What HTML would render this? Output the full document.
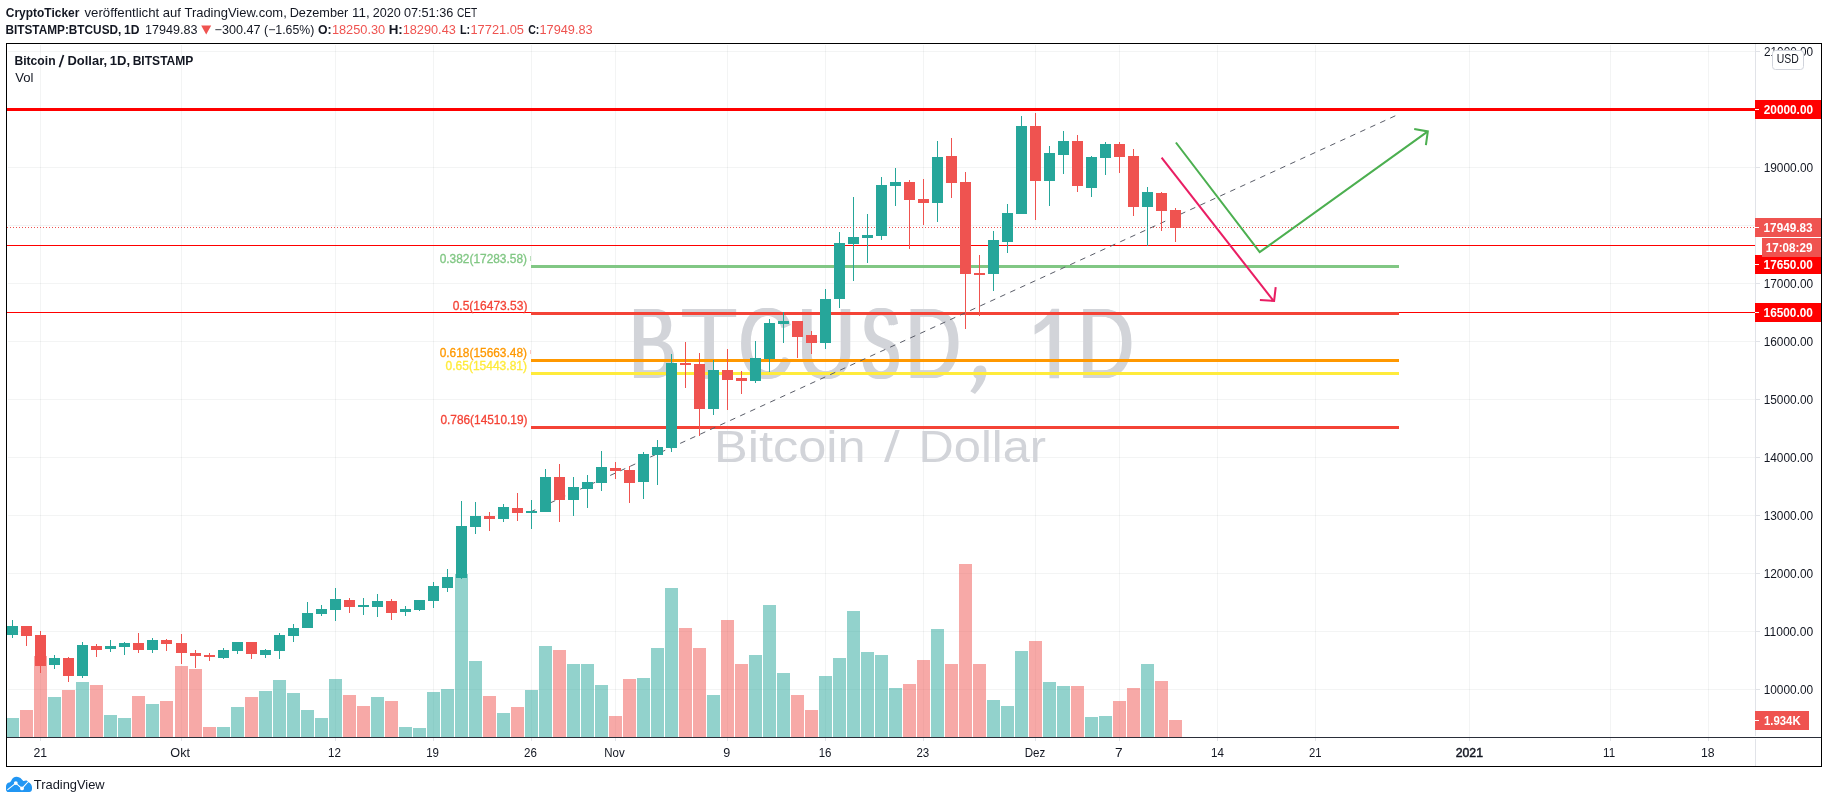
<!DOCTYPE html>
<html><head><meta charset="utf-8"><title>BTCUSD chart</title>
<style>html,body{margin:0;padding:0;background:#fff;}body{width:1828px;height:803px;overflow:hidden;font-family:"Liberation Sans",sans-serif;}svg{display:block;will-change:transform;}text{font-family:"Liberation Sans",sans-serif;}</style>
</head><body>
<svg width="1828" height="803" viewBox="0 0 1828 803">
<rect x="0" y="0" width="1828" height="803" fill="#ffffff"/>
<defs><clipPath id="pane"><rect x="7" y="44" width="1748" height="693"/></clipPath></defs>
<g clip-path="url(#pane)">
<g shape-rendering="crispEdges">
<rect x="8" y="689" width="1747" height="1" fill="rgba(42,46,57,0.055)" />
<rect x="8" y="631" width="1747" height="1" fill="rgba(42,46,57,0.055)" />
<rect x="8" y="573" width="1747" height="1" fill="rgba(42,46,57,0.055)" />
<rect x="8" y="515" width="1747" height="1" fill="rgba(42,46,57,0.055)" />
<rect x="8" y="457" width="1747" height="1" fill="rgba(42,46,57,0.055)" />
<rect x="8" y="399" width="1747" height="1" fill="rgba(42,46,57,0.055)" />
<rect x="8" y="341" width="1747" height="1" fill="rgba(42,46,57,0.055)" />
<rect x="8" y="283" width="1747" height="1" fill="rgba(42,46,57,0.055)" />
<rect x="8" y="225" width="1747" height="1" fill="rgba(42,46,57,0.055)" />
<rect x="8" y="167" width="1747" height="1" fill="rgba(42,46,57,0.055)" />
<rect x="8" y="109" width="1747" height="1" fill="rgba(42,46,57,0.055)" />
<rect x="8" y="51" width="1747" height="1" fill="rgba(42,46,57,0.055)" />
<rect x="40" y="45" width="1" height="692" fill="rgba(42,46,57,0.055)" />
<rect x="181" y="45" width="1" height="692" fill="rgba(42,46,57,0.055)" />
<rect x="335" y="45" width="1" height="692" fill="rgba(42,46,57,0.055)" />
<rect x="433" y="45" width="1" height="692" fill="rgba(42,46,57,0.055)" />
<rect x="531" y="45" width="1" height="692" fill="rgba(42,46,57,0.055)" />
<rect x="615" y="45" width="1" height="692" fill="rgba(42,46,57,0.055)" />
<rect x="727" y="45" width="1" height="692" fill="rgba(42,46,57,0.055)" />
<rect x="825" y="45" width="1" height="692" fill="rgba(42,46,57,0.055)" />
<rect x="923" y="45" width="1" height="692" fill="rgba(42,46,57,0.055)" />
<rect x="1035" y="45" width="1" height="692" fill="rgba(42,46,57,0.055)" />
<rect x="1119" y="45" width="1" height="692" fill="rgba(42,46,57,0.055)" />
<rect x="1217" y="45" width="1" height="692" fill="rgba(42,46,57,0.055)" />
<rect x="1315" y="45" width="1" height="692" fill="rgba(42,46,57,0.055)" />
<rect x="1469" y="45" width="1" height="692" fill="rgba(42,46,57,0.055)" />
<rect x="1610" y="45" width="1" height="692" fill="rgba(42,46,57,0.055)" />
<rect x="1708" y="45" width="1" height="692" fill="rgba(42,46,57,0.055)" />
</g>
<text transform="translate(628.23 378.3) scale(0.6894 1)" font-size="101.0" fill="#d2d4d9">B</text><text transform="translate(629.68 378.3) scale(0.6894 1)" font-size="101.0" fill="#d2d4d9">B</text><text transform="translate(631.13 378.3) scale(0.6894 1)" font-size="101.0" fill="#d2d4d9">B</text>
<text transform="translate(680.11 378.3) scale(0.9333 1)" font-size="101.0" fill="#d2d4d9">T</text><text transform="translate(680.45 378.3) scale(0.9333 1)" font-size="101.0" fill="#d2d4d9">T</text><text transform="translate(680.78 378.3) scale(0.9333 1)" font-size="101.0" fill="#d2d4d9">T</text>
<text transform="translate(737.24 378.3) scale(0.7451 1)" font-size="101.0" fill="#d2d4d9">C</text><text transform="translate(738.43 378.3) scale(0.7451 1)" font-size="101.0" fill="#d2d4d9">C</text><text transform="translate(739.63 378.3) scale(0.7451 1)" font-size="101.0" fill="#d2d4d9">C</text>
<text transform="translate(795.79 378.3) scale(0.8056 1)" font-size="101.0" fill="#d2d4d9">U</text><text transform="translate(796.71 378.3) scale(0.8056 1)" font-size="101.0" fill="#d2d4d9">U</text><text transform="translate(797.63 378.3) scale(0.8056 1)" font-size="101.0" fill="#d2d4d9">U</text>
<text transform="translate(859.98 378.3) scale(0.5575 1)" font-size="101.0" fill="#d2d4d9">S</text><text transform="translate(862.04 378.3) scale(0.5575 1)" font-size="101.0" fill="#d2d4d9">S</text><text transform="translate(864.09 378.3) scale(0.5575 1)" font-size="101.0" fill="#d2d4d9">S</text>
<text transform="translate(904.37 378.3) scale(0.7592 1)" font-size="101.0" fill="#d2d4d9">D</text><text transform="translate(905.50 378.3) scale(0.7592 1)" font-size="101.0" fill="#d2d4d9">D</text><text transform="translate(906.63 378.3) scale(0.7592 1)" font-size="101.0" fill="#d2d4d9">D</text>
<text transform="translate(1076.65 378.3) scale(0.7731 1)" font-size="101.0" fill="#d2d4d9">D</text><text transform="translate(1077.72 378.3) scale(0.7731 1)" font-size="101.0" fill="#d2d4d9">D</text><text transform="translate(1078.79 378.3) scale(0.7731 1)" font-size="101.0" fill="#d2d4d9">D</text>
<path d="M1059.1 308.8 L1051.8 308.8 Q1046 319 1034.6 325.5 L1034.6 334.5 Q1043 330.5 1049.5 324 L1049.5 378.3 L1059.1 378.3 Z" fill="#d2d4d9"/>
<path d="M976.5 366.5 Q981 364.2 984.5 366.8 Q987.2 369.5 986.2 375 Q984.5 384 975 394 L970.3 391.2 Q976.5 383.5 976.2 378.5 Q973 377 973.2 372.5 Q973.5 368.5 976.5 366.5 Z" fill="#d2d4d9"/>
<text transform="translate(714.06 462.3) scale(1.1475 1)" font-size="44.0" fill="#d2d4d9">Bitcoin</text>
<text transform="translate(884.10 462.3) scale(1.2825 1)" font-size="44.0" fill="#d2d4d9">/</text>
<text transform="translate(918.59 462.3) scale(1.1102 1)" font-size="44.0" fill="#d2d4d9">Dollar</text>
<g shape-rendering="crispEdges">
<rect x="6" y="718" width="13" height="19" fill="rgba(38,166,154,0.5)" />
<rect x="20" y="710" width="13" height="27" fill="rgba(239,83,80,0.5)" />
<rect x="34" y="656" width="13" height="81" fill="rgba(239,83,80,0.5)" />
<rect x="48" y="697" width="13" height="40" fill="rgba(38,166,154,0.5)" />
<rect x="62" y="690" width="13" height="47" fill="rgba(239,83,80,0.5)" />
<rect x="76" y="682" width="13" height="55" fill="rgba(38,166,154,0.5)" />
<rect x="90" y="685" width="13" height="52" fill="rgba(239,83,80,0.5)" />
<rect x="104" y="715" width="13" height="22" fill="rgba(38,166,154,0.5)" />
<rect x="118" y="718" width="13" height="19" fill="rgba(38,166,154,0.5)" />
<rect x="132" y="696" width="13" height="41" fill="rgba(239,83,80,0.5)" />
<rect x="146" y="704" width="13" height="33" fill="rgba(38,166,154,0.5)" />
<rect x="160" y="701" width="13" height="36" fill="rgba(239,83,80,0.5)" />
<rect x="175" y="666" width="13" height="71" fill="rgba(239,83,80,0.5)" />
<rect x="189" y="669" width="13" height="68" fill="rgba(239,83,80,0.5)" />
<rect x="203" y="727" width="13" height="10" fill="rgba(239,83,80,0.5)" />
<rect x="217" y="727" width="13" height="10" fill="rgba(38,166,154,0.5)" />
<rect x="231" y="707" width="13" height="30" fill="rgba(38,166,154,0.5)" />
<rect x="245" y="697" width="13" height="40" fill="rgba(239,83,80,0.5)" />
<rect x="259" y="691" width="13" height="46" fill="rgba(38,166,154,0.5)" />
<rect x="273" y="680" width="13" height="57" fill="rgba(38,166,154,0.5)" />
<rect x="287" y="693" width="13" height="44" fill="rgba(38,166,154,0.5)" />
<rect x="301" y="710" width="13" height="27" fill="rgba(38,166,154,0.5)" />
<rect x="315" y="718" width="13" height="19" fill="rgba(38,166,154,0.5)" />
<rect x="329" y="679" width="13" height="58" fill="rgba(38,166,154,0.5)" />
<rect x="343" y="695" width="13" height="42" fill="rgba(239,83,80,0.5)" />
<rect x="357" y="706" width="13" height="31" fill="rgba(239,83,80,0.5)" />
<rect x="371" y="697" width="13" height="40" fill="rgba(38,166,154,0.5)" />
<rect x="385" y="701" width="13" height="36" fill="rgba(239,83,80,0.5)" />
<rect x="399" y="727" width="13" height="10" fill="rgba(38,166,154,0.5)" />
<rect x="413" y="728" width="13" height="9" fill="rgba(38,166,154,0.5)" />
<rect x="427" y="692" width="13" height="45" fill="rgba(38,166,154,0.5)" />
<rect x="441" y="689" width="13" height="48" fill="rgba(38,166,154,0.5)" />
<rect x="455" y="574" width="13" height="163" fill="rgba(38,166,154,0.5)" />
<rect x="469" y="661" width="13" height="76" fill="rgba(38,166,154,0.5)" />
<rect x="483" y="696" width="13" height="41" fill="rgba(239,83,80,0.5)" />
<rect x="497" y="713" width="13" height="24" fill="rgba(38,166,154,0.5)" />
<rect x="511" y="707" width="13" height="30" fill="rgba(239,83,80,0.5)" />
<rect x="525" y="690" width="13" height="47" fill="rgba(38,166,154,0.5)" />
<rect x="539" y="646" width="13" height="91" fill="rgba(38,166,154,0.5)" />
<rect x="553" y="650" width="13" height="87" fill="rgba(239,83,80,0.5)" />
<rect x="567" y="664" width="13" height="73" fill="rgba(38,166,154,0.5)" />
<rect x="581" y="664" width="13" height="73" fill="rgba(38,166,154,0.5)" />
<rect x="595" y="685" width="13" height="52" fill="rgba(38,166,154,0.5)" />
<rect x="609" y="716" width="13" height="21" fill="rgba(239,83,80,0.5)" />
<rect x="623" y="679" width="13" height="58" fill="rgba(239,83,80,0.5)" />
<rect x="637" y="678" width="13" height="59" fill="rgba(38,166,154,0.5)" />
<rect x="651" y="648" width="13" height="89" fill="rgba(38,166,154,0.5)" />
<rect x="665" y="588" width="13" height="149" fill="rgba(38,166,154,0.5)" />
<rect x="679" y="628" width="13" height="109" fill="rgba(239,83,80,0.5)" />
<rect x="693" y="648" width="13" height="89" fill="rgba(239,83,80,0.5)" />
<rect x="707" y="695" width="13" height="42" fill="rgba(38,166,154,0.5)" />
<rect x="721" y="620" width="13" height="117" fill="rgba(239,83,80,0.5)" />
<rect x="735" y="664" width="13" height="73" fill="rgba(239,83,80,0.5)" />
<rect x="749" y="655" width="13" height="82" fill="rgba(38,166,154,0.5)" />
<rect x="763" y="605" width="13" height="132" fill="rgba(38,166,154,0.5)" />
<rect x="777" y="673" width="13" height="64" fill="rgba(38,166,154,0.5)" />
<rect x="791" y="695" width="13" height="42" fill="rgba(239,83,80,0.5)" />
<rect x="805" y="710" width="13" height="27" fill="rgba(239,83,80,0.5)" />
<rect x="819" y="676" width="13" height="61" fill="rgba(38,166,154,0.5)" />
<rect x="833" y="658" width="13" height="79" fill="rgba(38,166,154,0.5)" />
<rect x="847" y="611" width="13" height="126" fill="rgba(38,166,154,0.5)" />
<rect x="861" y="652" width="13" height="85" fill="rgba(38,166,154,0.5)" />
<rect x="875" y="655" width="13" height="82" fill="rgba(38,166,154,0.5)" />
<rect x="889" y="688" width="13" height="49" fill="rgba(38,166,154,0.5)" />
<rect x="903" y="684" width="13" height="53" fill="rgba(239,83,80,0.5)" />
<rect x="917" y="660" width="13" height="77" fill="rgba(239,83,80,0.5)" />
<rect x="931" y="629" width="13" height="108" fill="rgba(38,166,154,0.5)" />
<rect x="945" y="664" width="13" height="73" fill="rgba(239,83,80,0.5)" />
<rect x="959" y="564" width="13" height="173" fill="rgba(239,83,80,0.5)" />
<rect x="973" y="664" width="13" height="73" fill="rgba(239,83,80,0.5)" />
<rect x="987" y="700" width="13" height="37" fill="rgba(38,166,154,0.5)" />
<rect x="1001" y="706" width="13" height="31" fill="rgba(38,166,154,0.5)" />
<rect x="1015" y="651" width="13" height="86" fill="rgba(38,166,154,0.5)" />
<rect x="1029" y="641" width="13" height="96" fill="rgba(239,83,80,0.5)" />
<rect x="1043" y="682" width="13" height="55" fill="rgba(38,166,154,0.5)" />
<rect x="1057" y="686" width="13" height="51" fill="rgba(38,166,154,0.5)" />
<rect x="1071" y="686" width="13" height="51" fill="rgba(239,83,80,0.5)" />
<rect x="1085" y="717" width="13" height="20" fill="rgba(38,166,154,0.5)" />
<rect x="1099" y="716" width="13" height="21" fill="rgba(38,166,154,0.5)" />
<rect x="1113" y="701" width="13" height="36" fill="rgba(239,83,80,0.5)" />
<rect x="1127" y="688" width="13" height="49" fill="rgba(239,83,80,0.5)" />
<rect x="1141" y="664" width="13" height="73" fill="rgba(38,166,154,0.5)" />
<rect x="1155" y="681" width="13" height="56" fill="rgba(239,83,80,0.5)" />
<rect x="1169" y="720" width="13" height="17" fill="rgba(239,83,80,0.5)" />
<rect x="7" y="108" width="1748" height="3" fill="#ff0000" />
<rect x="7" y="245" width="1748" height="1" fill="#ff0000" />
<rect x="7" y="312" width="1748" height="1" fill="#ff0000" />
<rect x="531" y="265" width="868" height="3" fill="#81c784" />
<rect x="531" y="312" width="868" height="3" fill="#f44336" />
<rect x="531" y="359" width="868" height="3" fill="#ff9800" />
<rect x="531" y="372" width="868" height="3" fill="#ffeb3b" />
<rect x="531" y="426" width="868" height="3" fill="#f44336" />
</g>
<line x1="7" y1="227.5" x2="1755" y2="227.5" stroke="#ef5350" stroke-width="1" stroke-dasharray="1 2" shape-rendering="crispEdges"/>
<line x1="1395.3" y1="115.8" x2="531.5" y2="511.5" stroke="#5a5d68" stroke-width="1" stroke-dasharray="5.6 5.4"/>
<g shape-rendering="crispEdges">
<rect x="12" y="620" width="1" height="18" fill="#26a69a" />
<rect x="7" y="626" width="11" height="9" fill="#26a69a" />
<rect x="26" y="626" width="1" height="20" fill="#ef5350" />
<rect x="21" y="626" width="11" height="10" fill="#ef5350" />
<rect x="40" y="631" width="1" height="42" fill="#ef5350" />
<rect x="35" y="635" width="11" height="31" fill="#ef5350" />
<rect x="54" y="655" width="1" height="14" fill="#26a69a" />
<rect x="49" y="658" width="11" height="7" fill="#26a69a" />
<rect x="68" y="657" width="1" height="25" fill="#ef5350" />
<rect x="63" y="658" width="11" height="18" fill="#ef5350" />
<rect x="82" y="642" width="1" height="36" fill="#26a69a" />
<rect x="77" y="645" width="11" height="31" fill="#26a69a" />
<rect x="96" y="644" width="1" height="13" fill="#ef5350" />
<rect x="91" y="646" width="11" height="4" fill="#ef5350" />
<rect x="110" y="640" width="1" height="12" fill="#26a69a" />
<rect x="105" y="646" width="11" height="3" fill="#26a69a" />
<rect x="124" y="642" width="1" height="13" fill="#26a69a" />
<rect x="119" y="643" width="11" height="4" fill="#26a69a" />
<rect x="138" y="633" width="1" height="20" fill="#ef5350" />
<rect x="133" y="643" width="11" height="7" fill="#ef5350" />
<rect x="152" y="638" width="1" height="15" fill="#26a69a" />
<rect x="147" y="640" width="11" height="10" fill="#26a69a" />
<rect x="166" y="639" width="1" height="12" fill="#ef5350" />
<rect x="161" y="640" width="11" height="4" fill="#ef5350" />
<rect x="181" y="634" width="1" height="30" fill="#ef5350" />
<rect x="176" y="643" width="11" height="10" fill="#ef5350" />
<rect x="195" y="650" width="1" height="18" fill="#ef5350" />
<rect x="190" y="653" width="11" height="3" fill="#ef5350" />
<rect x="209" y="653" width="1" height="8" fill="#ef5350" />
<rect x="204" y="655" width="11" height="2" fill="#ef5350" />
<rect x="223" y="648" width="1" height="11" fill="#26a69a" />
<rect x="218" y="650" width="11" height="8" fill="#26a69a" />
<rect x="237" y="642" width="1" height="12" fill="#26a69a" />
<rect x="232" y="642" width="11" height="9" fill="#26a69a" />
<rect x="251" y="642" width="1" height="17" fill="#ef5350" />
<rect x="246" y="642" width="11" height="12" fill="#ef5350" />
<rect x="265" y="649" width="1" height="9" fill="#26a69a" />
<rect x="260" y="650" width="11" height="5" fill="#26a69a" />
<rect x="279" y="633" width="1" height="26" fill="#26a69a" />
<rect x="274" y="635" width="11" height="16" fill="#26a69a" />
<rect x="293" y="624" width="1" height="18" fill="#26a69a" />
<rect x="288" y="628" width="11" height="8" fill="#26a69a" />
<rect x="307" y="602" width="1" height="26" fill="#26a69a" />
<rect x="302" y="613" width="11" height="15" fill="#26a69a" />
<rect x="321" y="605" width="1" height="11" fill="#26a69a" />
<rect x="316" y="609" width="11" height="5" fill="#26a69a" />
<rect x="335" y="588" width="1" height="33" fill="#26a69a" />
<rect x="330" y="599" width="11" height="11" fill="#26a69a" />
<rect x="349" y="598" width="1" height="15" fill="#ef5350" />
<rect x="344" y="600" width="11" height="7" fill="#ef5350" />
<rect x="363" y="598" width="1" height="17" fill="#26a69a" />
<rect x="358" y="605" width="11" height="2" fill="#26a69a" />
<rect x="377" y="594" width="1" height="23" fill="#26a69a" />
<rect x="372" y="601" width="11" height="6" fill="#26a69a" />
<rect x="391" y="599" width="1" height="21" fill="#ef5350" />
<rect x="386" y="601" width="11" height="12" fill="#ef5350" />
<rect x="405" y="606" width="1" height="10" fill="#26a69a" />
<rect x="400" y="609" width="11" height="3" fill="#26a69a" />
<rect x="419" y="600" width="1" height="11" fill="#26a69a" />
<rect x="414" y="600" width="11" height="10" fill="#26a69a" />
<rect x="433" y="582" width="1" height="26" fill="#26a69a" />
<rect x="428" y="586" width="11" height="15" fill="#26a69a" />
<rect x="447" y="569" width="1" height="23" fill="#26a69a" />
<rect x="442" y="577" width="11" height="11" fill="#26a69a" />
<rect x="461" y="501" width="1" height="78" fill="#26a69a" />
<rect x="456" y="526" width="11" height="52" fill="#26a69a" />
<rect x="475" y="502" width="1" height="32" fill="#26a69a" />
<rect x="470" y="516" width="11" height="11" fill="#26a69a" />
<rect x="489" y="512" width="1" height="19" fill="#ef5350" />
<rect x="484" y="516" width="11" height="3" fill="#ef5350" />
<rect x="503" y="504" width="1" height="18" fill="#26a69a" />
<rect x="498" y="507" width="11" height="12" fill="#26a69a" />
<rect x="517" y="493" width="1" height="28" fill="#ef5350" />
<rect x="512" y="508" width="11" height="5" fill="#ef5350" />
<rect x="531" y="500" width="1" height="29" fill="#26a69a" />
<rect x="526" y="511" width="11" height="2" fill="#26a69a" />
<rect x="545" y="469" width="1" height="43" fill="#26a69a" />
<rect x="540" y="477" width="11" height="35" fill="#26a69a" />
<rect x="559" y="464" width="1" height="58" fill="#ef5350" />
<rect x="554" y="477" width="11" height="23" fill="#ef5350" />
<rect x="573" y="477" width="1" height="39" fill="#26a69a" />
<rect x="568" y="487" width="11" height="13" fill="#26a69a" />
<rect x="587" y="475" width="1" height="33" fill="#26a69a" />
<rect x="582" y="482" width="11" height="7" fill="#26a69a" />
<rect x="601" y="451" width="1" height="40" fill="#26a69a" />
<rect x="596" y="467" width="11" height="16" fill="#26a69a" />
<rect x="615" y="462" width="1" height="17" fill="#ef5350" />
<rect x="610" y="468" width="11" height="3" fill="#ef5350" />
<rect x="629" y="466" width="1" height="37" fill="#ef5350" />
<rect x="624" y="470" width="11" height="13" fill="#ef5350" />
<rect x="643" y="452" width="1" height="47" fill="#26a69a" />
<rect x="638" y="454" width="11" height="28" fill="#26a69a" />
<rect x="657" y="440" width="1" height="45" fill="#26a69a" />
<rect x="652" y="447" width="11" height="8" fill="#26a69a" />
<rect x="671" y="354" width="1" height="98" fill="#26a69a" />
<rect x="666" y="363" width="11" height="85" fill="#26a69a" />
<rect x="685" y="342" width="1" height="46" fill="#ef5350" />
<rect x="680" y="363" width="11" height="2" fill="#ef5350" />
<rect x="699" y="353" width="1" height="83" fill="#ef5350" />
<rect x="694" y="364" width="11" height="45" fill="#ef5350" />
<rect x="713" y="360" width="1" height="55" fill="#26a69a" />
<rect x="708" y="370" width="11" height="39" fill="#26a69a" />
<rect x="727" y="349" width="1" height="61" fill="#ef5350" />
<rect x="722" y="370" width="11" height="10" fill="#ef5350" />
<rect x="741" y="371" width="1" height="23" fill="#ef5350" />
<rect x="736" y="378" width="11" height="3" fill="#ef5350" />
<rect x="755" y="341" width="1" height="42" fill="#26a69a" />
<rect x="750" y="358" width="11" height="23" fill="#26a69a" />
<rect x="769" y="319" width="1" height="53" fill="#26a69a" />
<rect x="764" y="323" width="11" height="36" fill="#26a69a" />
<rect x="783" y="312" width="1" height="31" fill="#26a69a" />
<rect x="778" y="321" width="11" height="3" fill="#26a69a" />
<rect x="797" y="321" width="1" height="37" fill="#ef5350" />
<rect x="792" y="321" width="11" height="16" fill="#ef5350" />
<rect x="811" y="331" width="1" height="23" fill="#ef5350" />
<rect x="806" y="335" width="11" height="8" fill="#ef5350" />
<rect x="825" y="289" width="1" height="60" fill="#26a69a" />
<rect x="820" y="299" width="11" height="44" fill="#26a69a" />
<rect x="839" y="232" width="1" height="76" fill="#26a69a" />
<rect x="834" y="243" width="11" height="56" fill="#26a69a" />
<rect x="853" y="197" width="1" height="84" fill="#26a69a" />
<rect x="848" y="237" width="11" height="7" fill="#26a69a" />
<rect x="867" y="214" width="1" height="49" fill="#26a69a" />
<rect x="862" y="235" width="11" height="3" fill="#26a69a" />
<rect x="881" y="177" width="1" height="63" fill="#26a69a" />
<rect x="876" y="185" width="11" height="51" fill="#26a69a" />
<rect x="895" y="168" width="1" height="38" fill="#26a69a" />
<rect x="890" y="182" width="11" height="4" fill="#26a69a" />
<rect x="909" y="180" width="1" height="69" fill="#ef5350" />
<rect x="904" y="182" width="11" height="18" fill="#ef5350" />
<rect x="923" y="179" width="1" height="46" fill="#ef5350" />
<rect x="918" y="199" width="11" height="4" fill="#ef5350" />
<rect x="937" y="141" width="1" height="81" fill="#26a69a" />
<rect x="932" y="157" width="11" height="46" fill="#26a69a" />
<rect x="951" y="138" width="1" height="60" fill="#ef5350" />
<rect x="946" y="156" width="11" height="27" fill="#ef5350" />
<rect x="965" y="172" width="1" height="157" fill="#ef5350" />
<rect x="960" y="182" width="11" height="92" fill="#ef5350" />
<rect x="979" y="255" width="1" height="61" fill="#ef5350" />
<rect x="974" y="273" width="11" height="2" fill="#ef5350" />
<rect x="993" y="231" width="1" height="60" fill="#26a69a" />
<rect x="988" y="240" width="11" height="34" fill="#26a69a" />
<rect x="1007" y="204" width="1" height="49" fill="#26a69a" />
<rect x="1002" y="213" width="11" height="29" fill="#26a69a" />
<rect x="1021" y="116" width="1" height="98" fill="#26a69a" />
<rect x="1016" y="126" width="11" height="88" fill="#26a69a" />
<rect x="1035" y="113" width="1" height="107" fill="#ef5350" />
<rect x="1030" y="126" width="11" height="55" fill="#ef5350" />
<rect x="1049" y="146" width="1" height="60" fill="#26a69a" />
<rect x="1044" y="153" width="11" height="28" fill="#26a69a" />
<rect x="1063" y="131" width="1" height="43" fill="#26a69a" />
<rect x="1058" y="141" width="11" height="14" fill="#26a69a" />
<rect x="1077" y="135" width="1" height="57" fill="#ef5350" />
<rect x="1072" y="141" width="11" height="45" fill="#ef5350" />
<rect x="1091" y="156" width="1" height="41" fill="#26a69a" />
<rect x="1086" y="157" width="11" height="31" fill="#26a69a" />
<rect x="1105" y="142" width="1" height="33" fill="#26a69a" />
<rect x="1100" y="144" width="11" height="14" fill="#26a69a" />
<rect x="1119" y="142" width="1" height="31" fill="#ef5350" />
<rect x="1114" y="144" width="11" height="13" fill="#ef5350" />
<rect x="1133" y="149" width="1" height="67" fill="#ef5350" />
<rect x="1128" y="156" width="11" height="51" fill="#ef5350" />
<rect x="1147" y="187" width="1" height="59" fill="#26a69a" />
<rect x="1142" y="192" width="11" height="15" fill="#26a69a" />
<rect x="1161" y="192" width="1" height="39" fill="#ef5350" />
<rect x="1156" y="193" width="11" height="18" fill="#ef5350" />
<rect x="1175" y="208" width="1" height="34" fill="#ef5350" />
<rect x="1170" y="210" width="11" height="18" fill="#ef5350" />
</g>
<g fill="none" stroke-width="2.05" stroke-linecap="butt" stroke-linejoin="miter">
<path d="M1161.6 157.7 L1273.3 300.6" stroke="#e91e63"/>
<path d="M1275.7 287.2 L1274.1 300.9 L1259.9 299.9" stroke="#e91e63"/>
<path d="M1175.9 142.5 L1259.7 252.2 L1427.5 131.7" stroke="#4caf50"/>
<path d="M1414.2 129 L1427.8 131.4 L1425.9 145.2" stroke="#4caf50"/>
</g>
<rect x="530" y="256" width="1" height="5" fill="rgba(129,199,132,0.55)" shape-rendering="crispEdges"/>
<rect x="530" y="350" width="1" height="4" fill="rgba(244,67,54,0.3)" shape-rendering="crispEdges"/>
<text transform="translate(439.69 263.2) scale(0.9675 1)" font-size="12.3" fill="#81c784" stroke="#81c784" stroke-width="0.3">0.382(17283.58)</text>
<text transform="translate(452.69 310.0) scale(0.9769 1)" font-size="12.3" fill="#f44336" stroke="#f44336" stroke-width="0.3">0.5(16473.53)</text>
<text transform="translate(439.69 356.6) scale(0.9675 1)" font-size="12.3" fill="#ff9800" stroke="#ff9800" stroke-width="0.3">0.618(15663.48)</text>
<text transform="translate(445.59 370.3) scale(0.9768 1)" font-size="12.3" fill="#ffeb3b" stroke="#ffeb3b" stroke-width="0.3">0.65(15443.81)</text>
<text transform="translate(440.40 424.0) scale(0.9653 1)" font-size="12.3" fill="#f44336" stroke="#f44336" stroke-width="0.3">0.786(14510.19)</text>
<path d="M59.4 67.2 L63.5 55" stroke="#131722" stroke-width="1.7" fill="none"/>
<text transform="translate(14.45 64.8) scale(0.9957 1)" font-size="12.2" fill="#131722" font-weight="bold">Bitcoin</text>
<text transform="translate(67.49 64.8) scale(1.0639 1)" font-size="12.2" fill="#131722" font-weight="bold">Dollar,</text>
<text transform="translate(109.72 64.8) scale(1.0719 1)" font-size="12.2" fill="#131722" font-weight="bold">1D,</text>
<text transform="translate(132.66 64.8) scale(0.9893 1)" font-size="12.2" fill="#131722" font-weight="bold">BITSTAMP</text>
<text transform="translate(15.27 81.9) scale(1.0762 1)" font-size="12.2" fill="#131722">Vol</text>
</g>
<g shape-rendering="crispEdges">
<rect x="1755" y="44" width="1" height="692" fill="#e1e3e8" />
<rect x="1755" y="739" width="1" height="27" fill="#e1e3e8" />
<rect x="1756" y="689" width="4" height="1" fill="#e1e3e8" />
<rect x="1756" y="631" width="4" height="1" fill="#e1e3e8" />
<rect x="1756" y="573" width="4" height="1" fill="#e1e3e8" />
<rect x="1756" y="515" width="4" height="1" fill="#e1e3e8" />
<rect x="1756" y="457" width="4" height="1" fill="#e1e3e8" />
<rect x="1756" y="399" width="4" height="1" fill="#e1e3e8" />
<rect x="1756" y="341" width="4" height="1" fill="#e1e3e8" />
<rect x="1756" y="283" width="4" height="1" fill="#e1e3e8" />
<rect x="1756" y="225" width="4" height="1" fill="#e1e3e8" />
<rect x="1756" y="167" width="4" height="1" fill="#e1e3e8" />
<rect x="1756" y="109" width="4" height="1" fill="#e1e3e8" />
<rect x="1756" y="51" width="4" height="1" fill="#e1e3e8" />
</g>
<text transform="translate(1764.01 56.0) scale(0.9824 1)" font-size="12" fill="#131722">21000.00</text>
<text transform="translate(1763.65 172.0) scale(0.9897 1)" font-size="12" fill="#131722">19000.00</text>
<text transform="translate(1763.65 288.0) scale(0.9897 1)" font-size="12" fill="#131722">17000.00</text>
<text transform="translate(1763.65 346.0) scale(0.9897 1)" font-size="12" fill="#131722">16000.00</text>
<text transform="translate(1763.65 404.0) scale(0.9897 1)" font-size="12" fill="#131722">15000.00</text>
<text transform="translate(1763.65 462.0) scale(0.9897 1)" font-size="12" fill="#131722">14000.00</text>
<text transform="translate(1763.65 520.0) scale(0.9897 1)" font-size="12" fill="#131722">13000.00</text>
<text transform="translate(1763.65 578.0) scale(0.9897 1)" font-size="12" fill="#131722">12000.00</text>
<text transform="translate(1763.63 636.0) scale(1.0071 1)" font-size="12" fill="#131722">11000.00</text>
<text transform="translate(1763.65 694.0) scale(0.9897 1)" font-size="12" fill="#131722">10000.00</text>
<g shape-rendering="crispEdges">
<rect x="1755" y="100" width="66" height="19" fill="#ff0000" />
<rect x="1755" y="109" width="4" height="1" fill="#ffffff" />
<rect x="1755" y="218" width="66" height="19" fill="#ef5350" />
<rect x="1755" y="227" width="4" height="1" fill="#ffffff" />
<rect x="1755" y="255" width="66" height="19" fill="#ff0000" />
<rect x="1755" y="264" width="4" height="1" fill="#ffffff" />
<rect x="1762" y="238" width="59" height="19" fill="#ef5350" />
<rect x="1755" y="303" width="66" height="19" fill="#ff0000" />
<rect x="1755" y="312" width="4" height="1" fill="#ffffff" />
<rect x="1755" y="711" width="54" height="19" fill="#ef5350" />
<rect x="1755" y="720" width="4" height="1" fill="#ffffff" />
</g>
<text transform="translate(1763.75 114.0) scale(0.9858 1)" font-size="12" fill="#fff" font-weight="bold">20000.00</text>
<text transform="translate(1763.60 232.0) scale(0.9767 1)" font-size="12" fill="#fff" font-weight="bold">17949.83</text>
<text transform="translate(1765.70 252.0) scale(0.9719 1)" font-size="12" fill="#fff" font-weight="bold">17:08:29</text>
<text transform="translate(1763.59 269.0) scale(0.9848 1)" font-size="12" fill="#fff" font-weight="bold">17650.00</text>
<text transform="translate(1763.59 317.0) scale(0.9848 1)" font-size="12" fill="#fff" font-weight="bold">16500.00</text>
<text transform="translate(1763.92 725.0) scale(0.9497 1)" font-size="12" fill="#fff" font-weight="bold">1.934K</text>
<rect x="1772.5" y="50.5" width="31" height="19" rx="3" ry="3" fill="#ffffff" stroke="#d1d4dc" stroke-width="1"/>
<text transform="translate(1776.76 63.0) scale(0.8712 1)" font-size="12" fill="#131722">USD</text>
<g shape-rendering="crispEdges">
<rect x="7" y="737" width="1814" height="1" fill="#2a2e39" />
<rect x="40" y="738" width="1" height="3" fill="#e1e3e8" />
<rect x="181" y="738" width="1" height="3" fill="#e1e3e8" />
<rect x="335" y="738" width="1" height="3" fill="#e1e3e8" />
<rect x="433" y="738" width="1" height="3" fill="#e1e3e8" />
<rect x="531" y="738" width="1" height="3" fill="#e1e3e8" />
<rect x="615" y="738" width="1" height="3" fill="#e1e3e8" />
<rect x="727" y="738" width="1" height="3" fill="#e1e3e8" />
<rect x="825" y="738" width="1" height="3" fill="#e1e3e8" />
<rect x="923" y="738" width="1" height="3" fill="#e1e3e8" />
<rect x="1035" y="738" width="1" height="3" fill="#e1e3e8" />
<rect x="1119" y="738" width="1" height="3" fill="#e1e3e8" />
<rect x="1217" y="738" width="1" height="3" fill="#e1e3e8" />
<rect x="1315" y="738" width="1" height="3" fill="#e1e3e8" />
<rect x="1469" y="738" width="1" height="3" fill="#e1e3e8" />
<rect x="1610" y="738" width="1" height="3" fill="#e1e3e8" />
<rect x="1708" y="738" width="1" height="3" fill="#e1e3e8" />
</g>
<text transform="translate(33.39 757.0) scale(1.0231 1)" font-size="12" fill="#131722">21</text>
<text transform="translate(170.37 757.0) scale(1.0556 1)" font-size="12" fill="#131722">Okt</text>
<text transform="translate(327.97 757.0) scale(0.9694 1)" font-size="12" fill="#131722">12</text>
<text transform="translate(426.18 757.0) scale(0.9609 1)" font-size="12" fill="#131722">19</text>
<text transform="translate(524.12 757.0) scale(0.9641 1)" font-size="12" fill="#131722">26</text>
<text transform="translate(604.28 757.0) scale(0.9566 1)" font-size="12" fill="#131722">Nov</text>
<text transform="translate(723.37 757.0) scale(1.0507 1)" font-size="12" fill="#131722">9</text>
<text transform="translate(818.68 757.0) scale(0.9596 1)" font-size="12" fill="#131722">16</text>
<text transform="translate(916.42 757.0) scale(0.9641 1)" font-size="12" fill="#131722">23</text>
<text transform="translate(1024.77 757.0) scale(0.9646 1)" font-size="12" fill="#131722">Dez</text>
<text transform="translate(1115.12 757.0) scale(1.1413 1)" font-size="12" fill="#131722">7</text>
<text transform="translate(1210.97 757.0) scale(0.9667 1)" font-size="12" fill="#131722">14</text>
<text transform="translate(1309.04 757.0) scale(0.9406 1)" font-size="12" fill="#131722">21</text>
<text transform="translate(1455.69 757.0) scale(1.0220 1)" font-size="12" fill="#131722" stroke="#131722" stroke-width="0.45">2021</text>
<text transform="translate(1603.07 757.0) scale(0.9707 1)" font-size="12" fill="#131722">11</text>
<text transform="translate(1700.92 757.0) scale(1.0185 1)" font-size="12" fill="#131722">18</text>
<g shape-rendering="crispEdges" fill="#000000">
<rect x="6" y="43" width="1816" height="1" fill="#000" />
<rect x="6" y="766" width="1816" height="1" fill="#000" />
<rect x="6" y="43" width="1" height="724" fill="#000" />
<rect x="1821" y="43" width="1" height="724" fill="#000" />
</g>
<text transform="translate(5.82 16.9) scale(0.9812 1)" font-size="12.2" fill="#131722" font-weight="bold">CryptoTicker</text>
<text transform="translate(84.47 16.9) scale(1.0861 1)" font-size="12.2" fill="#131722">veröffentlicht</text>
<text transform="translate(162.68 16.9) scale(1.0686 1)" font-size="12.2" fill="#131722">auf</text>
<text transform="translate(184.44 16.9) scale(1.0641 1)" font-size="12.2" fill="#131722">TradingView.com,</text>
<text transform="translate(289.68 16.9) scale(1.0427 1)" font-size="12.2" fill="#131722">Dezember</text>
<text transform="translate(352.03 16.9) scale(1.0976 1)" font-size="12.2" fill="#131722">11,</text>
<text transform="translate(372.87 16.9) scale(1.0313 1)" font-size="12.2" fill="#131722">2020</text>
<text transform="translate(403.89 16.9) scale(1.0413 1)" font-size="12.2" fill="#131722">07:51:36</text>
<text transform="translate(456.99 16.9) scale(0.8324 1)" font-size="12.2" fill="#131722">CET</text>
<text transform="translate(5.47 34.0) scale(0.9679 1)" font-size="12.2" fill="#131722" font-weight="bold">BITSTAMP:BTCUSD,</text>
<text transform="translate(123.97 34.0) scale(0.9948 1)" font-size="12.2" fill="#131722" font-weight="bold">1D</text>
<text transform="translate(144.99 34.0) scale(1.0302 1)" font-size="12.2" fill="#131722">17949.83</text>
<text transform="translate(214.57 34.0) scale(1.0350 1)" font-size="12.2" fill="#131722">−300.47</text>
<text transform="translate(264.06 34.0) scale(1.0101 1)" font-size="12.2" fill="#131722">(−1.65%)</text>
<text transform="translate(318.01 34.0) scale(1.0056 1)" font-size="12.2" fill="#131722" font-weight="bold">O:</text>
<text transform="translate(331.88 34.0) scale(1.0484 1)" font-size="12.2" fill="#ef5350">18250.30</text>
<text transform="translate(388.66 34.0) scale(1.0960 1)" font-size="12.2" fill="#131722" font-weight="bold">H:</text>
<text transform="translate(402.68 34.0) scale(1.0443 1)" font-size="12.2" fill="#ef5350">18290.43</text>
<text transform="translate(459.94 34.0) scale(0.8932 1)" font-size="12.2" fill="#131722" font-weight="bold">L:</text>
<text transform="translate(470.47 34.0) scale(1.0524 1)" font-size="12.2" fill="#ef5350">17721.05</text>
<text transform="translate(528.18 34.0) scale(0.8642 1)" font-size="12.2" fill="#131722" font-weight="bold">C:</text>
<text transform="translate(539.48 34.0) scale(1.0443 1)" font-size="12.2" fill="#ef5350">17949.83</text>
<path d="M201.2 25.4 L211.2 25.4 L206.2 34.4 Z" fill="#ef5350"/>
<g>
<path d="M8.3 792 C7 792 6 790.9 6 789.4 L6 786.6 C6 784 7.5 782.6 9.3 782.4 C10.2 782.3 10.8 781.6 11.2 780.8 C12.2 778.4 14.2 776.8 16.5 776.8 C18.6 776.8 20.4 777.8 21.4 779 L23.3 780.9 C24 781.4 24.8 780.6 26 780.6 C27 780.6 27.8 781.2 28.2 782 C30.6 783 32 785 32 787.3 L32 789 C32 790.8 30.8 792 29.3 792 Z" fill="#2196f3"/>
<path d="M7.4 789.8 L15.8 783.1 L22 788.4 L28.8 781" fill="none" stroke="#ffffff" stroke-width="1.05"/>
<circle cx="15.8" cy="783.1" r="1.9" fill="#ffffff"/>
<circle cx="22" cy="788.4" r="1.9" fill="#ffffff"/>
</g>
<text transform="translate(33.84 789.0) scale(1.0065 1)" font-size="12.8" fill="#131722">TradingView</text>
</svg>
</body></html>
